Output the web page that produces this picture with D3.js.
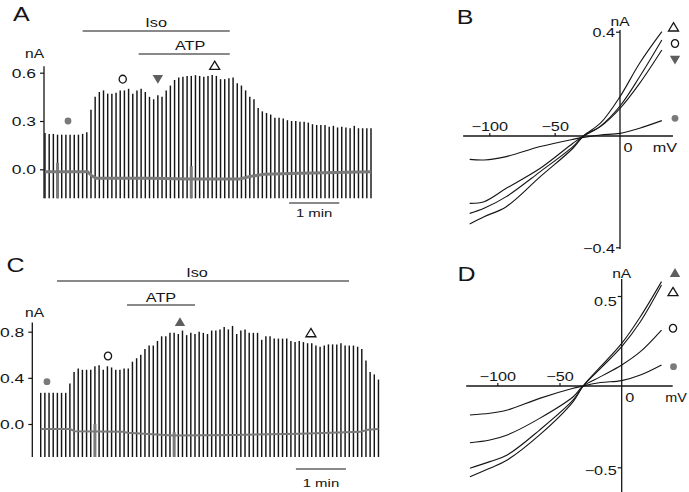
<!DOCTYPE html>
<html><head><meta charset="utf-8">
<script src="https://cdn.jsdelivr.net/npm/d3@7"></script>
<style>body{margin:0;background:#fff}</style>
</head><body><svg id="c" width="689" height="492"></svg>
<script>
// ---------- DATA ----------
// Panel A: peak current of each step (nA), one step every 5 s
const aBars = [0.225,0.22,0.22,0.215,0.215,0.215,0.215,0.215,0.215,0.22,0.23,
  0.37,0.45,0.48,0.49,0.47,0.47,0.475,0.49,0.49,0.50,0.47,0.49,0.50,0.48,0.45,0.435,0.46,0.45,0.49,0.52,
  0.555,0.57,0.575,0.58,0.58,0.585,0.58,0.575,0.58,0.585,0.58,0.56,0.56,0.565,0.57,0.535,0.52,0.49,0.45,0.435,
  0.38,0.36,0.35,0.34,0.32,0.32,0.315,0.305,0.30,0.30,0.295,0.295,0.29,0.28,0.275,0.275,0.275,0.265,0.27,0.26,
  0.265,0.26,0.255,0.27,0.255,0.255,0.255,0.255];
const aBarMin = -0.18;
const aBaseT = [0,51,56,61,126,173,233,245,263,305,390];
const aBaseV = [-0.015,-0.015,-0.04,-0.055,-0.055,-0.06,-0.06,-0.045,-0.03,-0.025,-0.015];
const aSpikeIdx = [3,35];
const aSpikeTop = [0.04,0.02];
const aTicks = [0,0.3,0.6];

// Panel C
const cBars = [0.27,0.27,0.27,0.27,0.27,0.27,0.27,
  0.35,0.45,0.48,0.47,0.47,0.47,0.50,0.51,0.47,0.50,0.49,0.47,0.47,0.48,0.48,
  0.54,0.57,0.60,0.65,0.68,0.68,0.72,0.76,0.76,0.79,0.79,0.78,0.81,0.77,0.79,0.78,0.80,0.79,0.78,0.81,0.81,
  0.82,0.84,0.82,0.85,0.78,0.81,0.82,0.79,0.79,0.79,0.73,0.76,0.76,0.74,0.74,0.74,0.74,0.72,0.71,0.72,0.71,
  0.70,0.70,0.68,0.67,0.68,0.69,0.69,0.69,0.70,0.68,0.68,0.68,0.67,0.65,0.55,0.45,0.43,0.385];
const cBarMin = -0.286;
const cBaseT = [0,35,41,99,104,159,231,311,383,392,405];
const cBaseV = [-0.044,-0.044,-0.062,-0.067,-0.076,-0.10,-0.095,-0.085,-0.068,-0.05,-0.044];
const cSpikeIdx = [13,32];
const cSpikeTop = [0.0,-0.07];
const cTicks = [0,0.4,0.8];

// Panel B: I-V relations (mV, nA)
const bV = [-115,-104,-87,-61,-36,-28,-15,0,15,32];
const bDot  = [-0.084,-0.086,-0.074,-0.038,-0.012,-0.005,0.004,0.010,0.030,0.059];
const bOpenTri = [-0.316,-0.29,-0.254,-0.146,-0.044,0,0.049,0.151,0.279,0.40];
const bCircle  = [-0.278,-0.26,-0.218,-0.128,-0.038,0,0.038,0.115,0.227,0.368];
const bDownTri = [-0.242,-0.236,-0.188,-0.116,-0.026,0,0.036,0.106,0.202,0.33];

// Panel D
const dV = [-122,-106,-92,-66,-39,-31,-17,0,15,32];
const dDot  = [-0.178,-0.168,-0.148,-0.076,-0.014,0,0.019,0.030,0.061,0.117];
const dCircle = [-0.349,-0.332,-0.301,-0.199,-0.066,0,0.052,0.117,0.191,0.311];
const dOpenTri = [-0.506,-0.465,-0.424,-0.271,-0.086,0,0.098,0.219,0.357,0.561];
const dFillTri = [-0.558,-0.506,-0.455,-0.301,-0.096,0,0.107,0.237,0.385,0.580];

// ---------- DRAW ----------
const svg = d3.select('#c');
const FONT = "'Liberation Sans', Arial, sans-serif";
const SX = 1.3;
const INK = '#151515', GRAY = '#7a7a7a';

function label(x, y, s, size, anchor, sx){
  svg.append('text').attr('transform',`translate(${x},${y}) scale(${sx||SX},1)`)
    .attr('text-anchor', anchor||'middle').attr('dominant-baseline','central')
    .style('font-family',FONT).style('font-size',size+'px').attr('fill',INK).text(s);
}
function marker(kind, x, y){
  const g = svg.append('g').attr('transform',`translate(${x},${y})`);
  if(kind==='dot') g.append('circle').attr('r',3.4).attr('fill',GRAY);
  if(kind==='circle') g.append('ellipse').attr('rx',3.6).attr('ry',3.9).attr('fill','#fff').attr('stroke',INK).attr('stroke-width',1.3);
  if(kind==='openTri') g.append('path').attr('d','M0,-4.3L5,4L-5,4Z').attr('fill','#fff').attr('stroke',INK).attr('stroke-width',1.3);
  if(kind==='fillTri') g.append('path').attr('d','M0,-4.6L5.2,4.2L-5.2,4.2Z').attr('fill','#5e5e5e');
  if(kind==='downTri') g.append('path').attr('d','M0,4.6L5.2,-4.2L-5.2,-4.2Z').attr('fill','#5e5e5e');
}

function tracePanel(o){
  const x = d3.scaleLinear().domain([0,(o.bars.length-1)*5]).range(o.xr);
  const y = d3.scaleLinear().domain([0,o.ticks[2]]).range(o.yr);
  const g = svg.append('g');
  g.selectAll('line.bar').data(o.bars).join('line').attr('class','bar')
    .attr('x1',(d,i)=>x(i*5)).attr('x2',(d,i)=>x(i*5))
    .attr('y1',y(o.barMin)).attr('y2',d=>y(d))
    .attr('stroke',INK).attr('stroke-width',1.45);
  g.selectAll('line.spk').data(o.spikeIdx).join('line').attr('class','spk')
    .attr('x1',d=>x(d*5)).attr('x2',d=>x(d*5))
    .attr('y1',y(o.barMin)).attr('y2',(d,i)=>y(o.spikeTop[i]))
    .attr('stroke',GRAY).attr('stroke-width',3);
  const ln = d3.line().x(d=>x(d[0])).y(d=>y(d[1]));
  g.append('path').attr('d',ln(d3.zip(o.baseT,o.baseV))).attr('fill','none')
    .attr('stroke',GRAY).attr('stroke-width',o.baseW);
  // y axis
  g.append('line').attr('x1',o.ax).attr('x2',o.ax).attr('y1',y(o.axTop)).attr('y2',y(o.barMin))
    .attr('stroke',INK).attr('stroke-width',1.3);
  const ax = g.append('g').attr('transform',`translate(${o.ax},0)`)
    .call(d3.axisLeft(y).tickValues(o.ticks).tickFormat(d3.format('.1f')).tickSize(4));
  ax.select('.domain').remove();
  ax.selectAll('line').attr('stroke',INK).attr('stroke-width',1.2);
  ax.selectAll('text').attr('x',null).attr('dy',null)
    .attr('transform',`translate(-8,0) scale(1.4,1)`).attr('dominant-baseline','central')
    .style('font-family',FONT).style('font-size','12.5px').attr('fill',INK);
  label(o.nA[0],o.nA[1],'nA',12);
  // drug bars
  o.drugs.forEach(dr=>{
    g.append('line').attr('x1',x(dr.t0)).attr('x2',x(dr.t1)).attr('y1',dr.y).attr('y2',dr.y)
      .attr('stroke',INK).attr('stroke-width',1.2);
    label((x(dr.t0)+x(dr.t1))/2 + dr.dx, dr.ty, dr.name, 12.5);
  });
  // time scale bar
  g.append('line').attr('x1',x(o.sb[0])).attr('x2',x(o.sb[0]+60)).attr('y1',o.sb[1]).attr('y2',o.sb[1])
    .attr('stroke',INK).attr('stroke-width',1.2);
  label((x(o.sb[0])+x(o.sb[0]+60))/2, o.sb[2], '1 min', 11.5);
  o.marks.forEach(m=>marker(m[0],x(m[1]),y(m[2])));
  label(o.letter[0],o.letter[1],o.letter[2],20,'middle',1.25);
}

tracePanel({bars:aBars,barMin:aBarMin,xr:[45,371],yr:[169.3,72.7],ticks:aTicks,
  baseT:aBaseT,baseV:aBaseV,baseW:3,spikeIdx:aSpikeIdx,spikeTop:aSpikeTop,ax:44,axTop:0.64,
  nA:[34.5,54],
  drugs:[{name:'Iso',t0:45,t1:221,y:31,ty:22.5,dx:0},{name:'ATP',t0:112,t1:221,y:54,ty:46,dx:6}],
  sb:[292,203,213],
  marks:[['dot',27.5,0.30],['circle',93,0.56],['downTri',135,0.56],['openTri',203,0.645]],
  letter:[21.3,14.5,'A']});

tracePanel({bars:cBars,barMin:cBarMin,xr:[40.7,40.7+(cBars.length-1)*4.17],yr:[424,331.7],ticks:cTicks,
  baseT:cBaseT,baseV:cBaseV,baseW:2,spikeIdx:cSpikeIdx,spikeTop:cSpikeTop,ax:32.3,axTop:0.88,
  nA:[34.5,313],
  drugs:[{name:'Iso',t0:19.5,t1:369.7,y:281,ty:272.5,dx:-6},{name:'ATP',t0:103.5,t1:185,y:305,ty:297.5,dx:0}],
  sb:[306,469,483.5],
  marks:[['dot',7.5,0.367],['circle',80.7,0.589],['fillTri',167,0.886],['openTri',324,0.791]],
  letter:[15.5,265,'C']});

function ivPanel(o){
  const x = d3.scaleLinear().domain([-100,0]).range(o.xr);
  const y = d3.scaleLinear().domain([-o.t,0,o.t]).range(o.yr);
  const g = svg.append('g');
  const y0 = y(0), x0 = x(0);
  g.append('line').attr('x1',x(o.xExt[0])).attr('x2',x(o.xExt[1])).attr('y1',y0).attr('y2',y0)
    .attr('stroke',INK).attr('stroke-width',1.3);
  g.append('line').attr('x1',x0).attr('x2',x0).attr('y1',o.yExt[0]).attr('y2',o.yExt[1])
    .attr('stroke',INK).attr('stroke-width',1.3);
  const xa = g.append('g').attr('transform',`translate(0,${y0})`)
    .call(d3.axisTop(x).tickValues([-100,-50]).tickSize(3).tickFormat(d=>'\u2212'+Math.abs(d)));
  xa.select('.domain').remove();
  xa.selectAll('line').attr('stroke',INK).attr('stroke-width',1.2);
  xa.selectAll('text').attr('y',null).attr('dy',null)
    .attr('transform',`translate(0,-9) scale(1.3,1)`).attr('dominant-baseline','central')
    .style('font-family',FONT).style('font-size','12.5px').attr('fill',INK);
  const ya = g.append('g').attr('transform',`translate(${x0},0)`)
    .call(d3.axisLeft(y).tickValues([-o.t,o.t]).tickSize(4).tickFormat(d=>(d<0?'\u2212':'')+Math.abs(d)));
  ya.select('.domain').remove();
  ya.selectAll('line').attr('stroke',INK).attr('stroke-width',1.2);
  ya.selectAll('text').attr('x',null).attr('dy',null)
    .attr('transform',(d)=>`translate(-5,${d>0?o.lblOff[0]:o.lblOff[1]}) scale(1.3,1)`).attr('dominant-baseline','central')
    .style('font-family',FONT).style('font-size','12.5px').attr('fill',INK);
  label(x0+8, y0+11.5, '0', 12.5, 'middle');
  label(o.mv[0], y0+11.5, 'mV', o.mv[1], 'middle', o.mv[2]);
  label(x0, o.nAy, 'nA', 12, 'middle');
  const ln = d3.line().x(d=>x(d[0])).y(d=>y(d[1])).curve(d3.curveCatmullRom);
  o.series.forEach(s=>{
    g.append('path').attr('d',ln(d3.zip(o.v,s[0]))).attr('fill','none')
      .attr('stroke',INK).attr('stroke-width',1.1);
  });
  o.marks.forEach(m=>marker(m[0],m[1],m[2]));
  label(o.letter[0],o.letter[1],o.letter[2],20,'middle',1.25);
}

ivPanel({xr:[489.3,620],yr:[247.3,136,31.7],t:0.4,xExt:[-120,40.5],yExt:[30,249],v:bV,
  series:[[bDot],[bOpenTri],[bCircle],[bDownTri]], lblOff:[0.5,1], mv:[665,12.5,1.3], nAy:21.7,
  marks:[['openTri',673.5,27],['circle',675,43.5],['downTri',675,60],['dot',675,118.3]],
  letter:[465,17.5,'B']});

ivPanel({xr:[497.3,621.7],yr:[467.3,386,296],t:0.5,xExt:[-125,41],yExt:[279,492],v:dV,
  series:[[dDot],[dCircle],[dOpenTri],[dFillTri]], lblOff:[5.5,2.5], mv:[676,12,1.2], nAy:273.3,
  marks:[['fillTri',675,272.7],['openTri',673,291.7],['circle',673,328.3],['dot',673.5,366.7]],
  letter:[466.5,274,'D']});
</script></body></html>
